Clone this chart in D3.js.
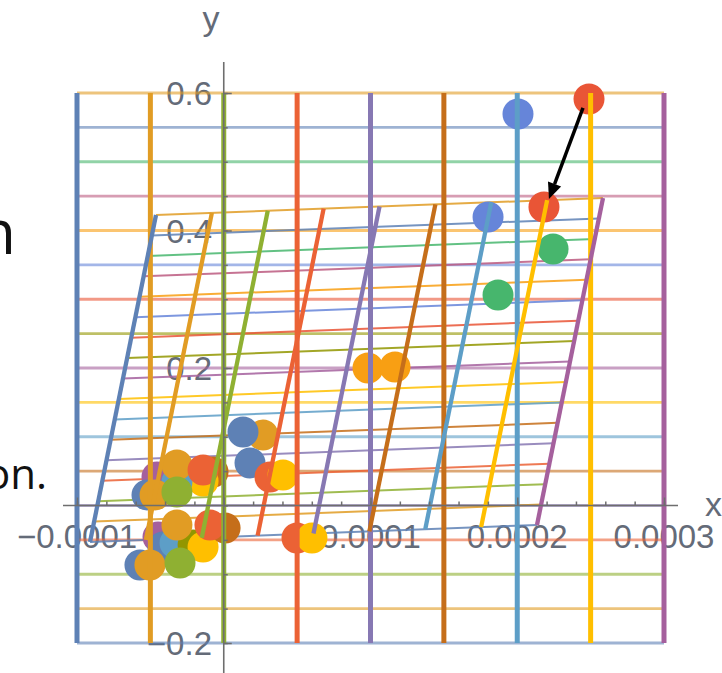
<!DOCTYPE html>
<html>
<head>
<meta charset="utf-8">
<script src="https://cdn.jsdelivr.net/npm/d3@7"></script>
<style>
  html, body { margin: 0; padding: 0; background: #fff; }
  svg { display: block; }
</style>
</head>
<body>
<svg id="chart" width="722" height="673"></svg>
<script>
// ---------- data ----------
const palette = ["#5E81B5","#E19C24","#8FB032","#EB6235","#8778B3","#C56E1A","#5D9EC7",
                 "#FFBF00","#A5609D","#929600","#E95536","#6685D9","#F89F13","#BC5B80","#47B66D"];

// original grid
const xGrid = [-0.0001, -0.00005, 0, 0.00005, 0.0001, 0.00015, 0.0002, 0.00025, 0.0003];
const yGrid = [-0.2, -0.15, -0.1, -0.05, 0, 0.05, 0.1, 0.15, 0.2, 0.25, 0.3, 0.35, 0.4, 0.45, 0.5, 0.55, 0.6];

// affine map applied to the grid: x' = a x + b y + e ; y' = c x + d y + f
const mapRowX = [0.7615, 0.00005622, -0.000003746];
const mapRowY = [61.82, 0.5945, 0.07199];

// tick labels
const xTickValues = [-0.0001, 0.0001, 0.0002, 0.0003];
const xTickLabels = ["\u22120.0001", "0.0001", "0.0002", "0.0003"];
const yTickValues = [-0.2, 0.2, 0.4, 0.6];
const yTickLabels = ["\u22120.2", "0.2", "0.4", "0.6"];

// scatter points (drawing order)
const pointX = [0.0002489, 0.0002005, 0.0001801, 0.0002182, 0.0002244, 0.0001869, 0.0000983, 0.0001167,
  0.0000267, 0.0000131, 0.0000179, 0.0000315, 0.0000404,
  -0.0000455, -0.0000073, -0.0000141, -0.0000319, -0.0000319, -0.0000141, -0.0000523, -0.0000468, -0.0000319,
  -0.0000448, -0.0000414, -0.0000332, -0.0000209, -0.0000141, 0.0000009, -0.0000094, -0.0000319,
  -0.0000571, -0.0000503, -0.0000298, 0.0000499, 0.0000601];
const pointY = [0.5913, 0.5695, 0.4196, 0.4342, 0.3731, 0.3062, 0.2000, 0.2015,
  0.1025, 0.1069, 0.0618, 0.0415, 0.0444,
  0.0415, 0.0487, 0.0356, 0.0342, 0.0589, 0.0516, 0.0153, 0.0153, 0.0196,
  -0.0458, -0.0604, -0.0545, -0.0575, -0.0604, -0.0327, -0.0284, -0.0284,
  -0.0865, -0.0865, -0.0836, -0.0473, -0.0473];
const pointColor = [10, 11, 11, 10, 14, 14, 12, 12,
  1, 0, 0, 3, 7,
  8, 5, 7, 6, 1, 3, 0, 1, 2,
  8, 0, 6, 9, 7, 5, 3, 1,
  0, 1, 2, 3, 7];

// arrow (tail, tip)
const arrowFrom = [0.0002448, 0.5782];
const arrowTo = [0.0002216, 0.4458];

// ---------- drawing ----------
const svg = d3.select("#chart");
const x = d3.scaleLinear().domain([-0.0001, 0.0003]).range([77, 664]);
const y = d3.scaleLinear().domain([-0.2, 0.6]).range([643, 93]);
const col = i => palette[i % palette.length];
const mapPt = (px, py) => [
  mapRowX[0] * px + mapRowX[1] * py + mapRowX[2],
  mapRowY[0] * px + mapRowY[1] * py + mapRowY[2]
];
const line = d3.line().x(d => x(d[0])).y(d => y(d[1]));
const xMin = xGrid[0], xMax = xGrid[xGrid.length - 1];
const yMin = yGrid[0], yMax = yGrid[yGrid.length - 1];
const tickColor = "#646b78";
const font = "'Liberation Sans', Arial, sans-serif";

// surrounding document text (cut at left edge, as in the reference)
svg.append("text").attr("x", 16).attr("y", 254).attr("text-anchor", "end")
  .attr("font-family", "'Open Sans', 'Noto Sans', sans-serif").attr("font-size", 62).attr("fill", "#111").text("n");
svg.append("text").attr("x", 47).attr("y", 489).attr("text-anchor", "end")
  .attr("font-family", "'Open Sans', 'Noto Sans', sans-serif").attr("font-size", 42).attr("fill", "#111").text("on.");

// tick labels (under the lines)
const lab = svg.append("g").attr("font-family", font).attr("font-size", 33).attr("fill", tickColor);
lab.selectAll(".xl").data(xTickValues).join("text")
  .attr("x", d => x(d)).attr("y", 548).attr("text-anchor", "middle")
  .text((d, i) => xTickLabels[i]);
lab.selectAll(".yl").data(yTickValues).join("text")
  .attr("x", 212).attr("y", d => y(d) + 12).attr("text-anchor", "end")
  .text((d, i) => yTickLabels[i]);

// original horizontal lines (thin)
svg.append("g").selectAll("path").data(yGrid).join("path")
  .attr("d", v => line([[xMin, v], [xMax, v]]))
  .attr("stroke", (v, i) => col(i)).attr("stroke-width", 2.8).attr("stroke-opacity", 0.6).attr("fill", "none");

// transformed horizontal lines (thin)
svg.append("g").selectAll("path").data(yGrid).join("path")
  .attr("d", v => line([mapPt(xMin, v), mapPt(xMax, v)]))
  .attr("stroke", (v, i) => col(i)).attr("stroke-width", 2).attr("stroke-opacity", 0.85).attr("fill", "none");

// points
svg.append("g").selectAll("circle").data(pointX).join("circle")
  .attr("cx", d => x(d)).attr("cy", (d, i) => y(pointY[i])).attr("r", 15.5)
  .attr("fill", (d, i) => col(pointColor[i]));

// original vertical lines (thick)
svg.append("g").selectAll("path").data(xGrid).join("path")
  .attr("d", v => line([[v, yMin], [v, yMax]]))
  .attr("stroke", (v, i) => col(i)).attr("stroke-width", 5).attr("fill", "none");

// transformed vertical lines (thick)
svg.append("g").selectAll("path").data(xGrid).join("path")
  .attr("d", v => line([mapPt(v, yMin), mapPt(v, yMax)]))
  .attr("stroke", (v, i) => col(i)).attr("stroke-width", 4.3).attr("fill", "none");

// axes
const axisColor = "#6e6e6e";
const xMinor = d3.range(-5, 16).map(k => k * 0.00002);
const yMinor = d3.range(-4, 13).map(k => k * 0.05);
const xAxisG = svg.append("g").attr("transform", `translate(0,${y(0)})`);
xAxisG.call(d3.axisTop(x).tickValues(xMinor).tickSize(4).tickFormat(""));
xAxisG.append("g").call(d3.axisTop(x).tickValues(xTickValues.concat([0])).tickSize(8).tickFormat(""));
xAxisG.selectAll(".tick line").attr("stroke", axisColor).attr("stroke-width", 1.5);
xAxisG.selectAll(".domain").remove();
xAxisG.append("line").attr("x1", 63).attr("x2", 678).attr("stroke", axisColor).attr("stroke-width", 1.6);

const yAxisG = svg.append("g").attr("transform", `translate(${x(0)},0)`);
yAxisG.call(d3.axisRight(y).tickValues(yMinor).tickSize(4).tickFormat(""));
yAxisG.append("g").call(d3.axisRight(y).tickValues(yTickValues).tickSize(8).tickFormat(""));
yAxisG.selectAll(".tick line").attr("stroke", axisColor).attr("stroke-width", 1.5);
yAxisG.selectAll(".domain").remove();
yAxisG.append("line").attr("y1", 62).attr("y2", 673).attr("stroke", axisColor).attr("stroke-width", 1.6);

// axis names
svg.append("text").attr("x", 705).attr("y", 516).attr("font-family", font).attr("font-size", 34)
  .attr("fill", tickColor).text("x");
svg.append("text").attr("x", 211).attr("y", 30).attr("text-anchor", "middle").attr("font-family", font)
  .attr("font-size", 34).attr("fill", tickColor).text("y");

// arrow
const ax0 = x(arrowFrom[0]), ay0 = y(arrowFrom[1]), ax1 = x(arrowTo[0]), ay1 = y(arrowTo[1]);
const ang = Math.atan2(ay1 - ay0, ax1 - ax0);
const headL = 16, headW = 7;
const bx = ax1 - headL * Math.cos(ang), by = ay1 - headL * Math.sin(ang);
svg.append("line").attr("x1", ax0).attr("y1", ay0).attr("x2", bx).attr("y2", by)
  .attr("stroke", "#000").attr("stroke-width", 3.5);
svg.append("path")
  .attr("d", `M${ax1},${ay1}L${bx + headW * Math.sin(ang)},${by - headW * Math.cos(ang)}L${bx - headW * Math.sin(ang)},${by + headW * Math.cos(ang)}Z`)
  .attr("fill", "#000");
</script>
</body>
</html>
